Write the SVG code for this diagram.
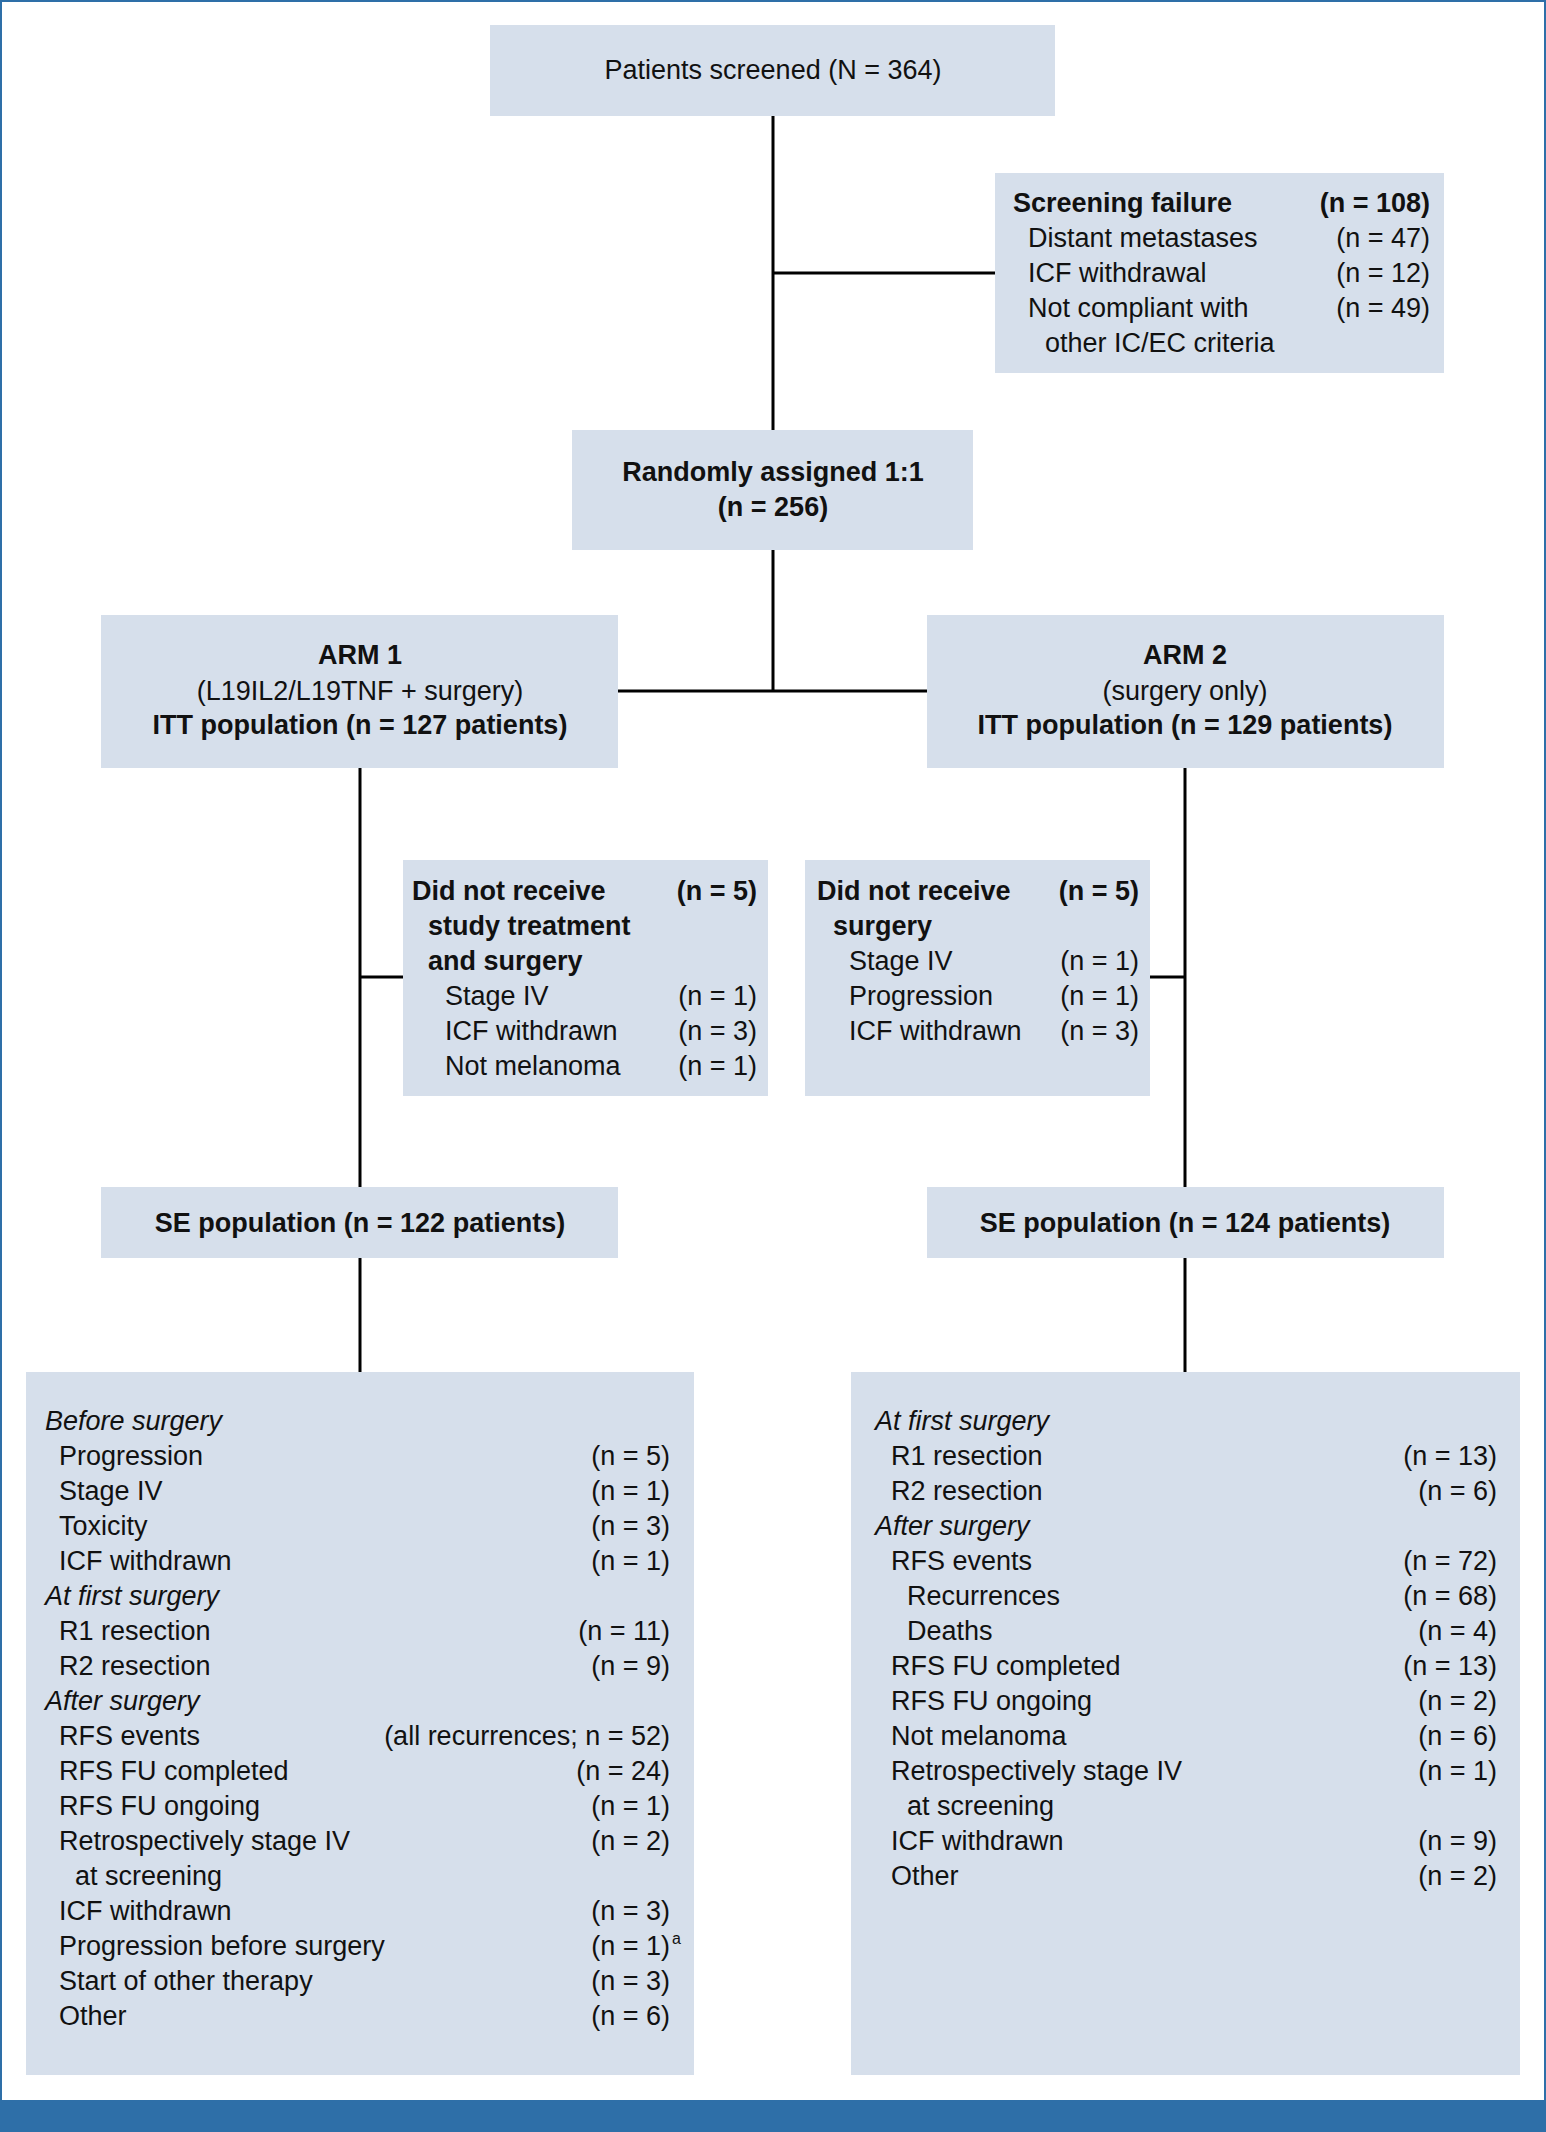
<svg xmlns="http://www.w3.org/2000/svg" width="1546" height="2132" viewBox="0 0 1546 2132">
<style>
.box{fill:#d6dfeb}
text{font-family:"Liberation Sans",Arial,sans-serif;font-size:27px;fill:#111}
.b{font-weight:bold}
.i{font-style:italic}
.c{text-anchor:middle}
.r{text-anchor:end}
.ln{stroke:#000;stroke-width:3;fill:none}
</style>
<rect x="1" y="1" width="1544" height="2110" fill="#fff" stroke="#2e6fa8" stroke-width="2"/>
<rect x="0" y="2100" width="1546" height="32" fill="#2e6fa8"/>
<g id="connectors" class="ln">
<path d="M773 116V430M773 273H995M773 550V691M618 691H927M360 768V1187M360 977H403M1185 768V1187M1150 977H1185M360 1258V1372M1185 1258V1372"/>
</g>
<g id="screened"><rect class="box" x="490" y="25" width="565" height="91"/>
<text class="c" x="773" y="79">Patients screened (N = 364)</text></g>
<g id="failure"><rect class="box" x="995" y="173" width="449" height="200"/>
<text class="b" x="1013" y="212">Screening failure</text><text class="b r" x="1430" y="212">(n = 108)</text>
<text x="1028" y="247">Distant metastases</text><text class="r" x="1430" y="247">(n = 47)</text>
<text x="1028" y="282">ICF withdrawal</text><text class="r" x="1430" y="282">(n = 12)</text>
<text x="1028" y="317">Not compliant with</text><text class="r" x="1430" y="317">(n = 49)</text>
<text x="1045" y="352">other IC/EC criteria</text></g>
<g id="random"><rect class="box" x="572" y="430" width="401" height="120"/>
<text class="b c" x="773" y="481">Randomly assigned 1:1</text><text class="b c" x="773" y="516">(n = 256)</text></g>
<g id="arm1"><rect class="box" x="101" y="615" width="517" height="153"/>
<text class="b c" x="360" y="664">ARM 1</text><text class="c" x="360" y="700">(L19IL2/L19TNF + surgery)</text><text class="b c" x="360" y="734">ITT population (n = 127 patients)</text></g>
<g id="arm2"><rect class="box" x="927" y="615" width="517" height="153"/>
<text class="b c" x="1185" y="664">ARM 2</text><text class="c" x="1185" y="700">(surgery only)</text><text class="b c" x="1185" y="734">ITT population (n = 129 patients)</text></g>
<g id="dnr1"><rect class="box" x="403" y="860" width="365" height="236"/>
<text class="b" x="412" y="900">Did not receive</text><text class="b r" x="757" y="900">(n = 5)</text>
<text class="b" x="428" y="935">study treatment</text>
<text class="b" x="428" y="970">and surgery</text>
<text x="445" y="1005">Stage IV</text><text class="r" x="757" y="1005">(n = 1)</text>
<text x="445" y="1040">ICF withdrawn</text><text class="r" x="757" y="1040">(n = 3)</text>
<text x="445" y="1075">Not melanoma</text><text class="r" x="757" y="1075">(n = 1)</text></g>
<g id="dnr2"><rect class="box" x="805" y="860" width="345" height="236"/>
<text class="b" x="817" y="900">Did not receive</text><text class="b r" x="1139" y="900">(n = 5)</text>
<text class="b" x="833" y="935">surgery</text>
<text x="849" y="970">Stage IV</text><text class="r" x="1139" y="970">(n = 1)</text>
<text x="849" y="1005">Progression</text><text class="r" x="1139" y="1005">(n = 1)</text>
<text x="849" y="1040">ICF withdrawn</text><text class="r" x="1139" y="1040">(n = 3)</text></g>
<g id="se1"><rect class="box" x="101" y="1187" width="517" height="71"/>
<text class="b c" x="360" y="1232">SE population (n = 122 patients)</text></g>
<g id="se2"><rect class="box" x="927" y="1187" width="517" height="71"/>
<text class="b c" x="1185" y="1232">SE population (n = 124 patients)</text></g>
<g id="out1"><rect class="box" x="26" y="1372" width="668" height="703"/>
<text class="i" x="45" y="1430">Before surgery</text>
<text x="59" y="1465">Progression</text><text class="r" x="670" y="1465">(n = 5)</text>
<text x="59" y="1500">Stage IV</text><text class="r" x="670" y="1500">(n = 1)</text>
<text x="59" y="1535">Toxicity</text><text class="r" x="670" y="1535">(n = 3)</text>
<text x="59" y="1570">ICF withdrawn</text><text class="r" x="670" y="1570">(n = 1)</text>
<text class="i" x="45" y="1605">At first surgery</text>
<text x="59" y="1640">R1 resection</text><text class="r" x="670" y="1640">(n = 11)</text>
<text x="59" y="1675">R2 resection</text><text class="r" x="670" y="1675">(n = 9)</text>
<text class="i" x="45" y="1710">After surgery</text>
<text x="59" y="1745">RFS events</text><text class="r" x="670" y="1745">(all recurrences; n = 52)</text>
<text x="59" y="1780">RFS FU completed</text><text class="r" x="670" y="1780">(n = 24)</text>
<text x="59" y="1815">RFS FU ongoing</text><text class="r" x="670" y="1815">(n = 1)</text>
<text x="59" y="1850">Retrospectively stage IV</text><text class="r" x="670" y="1850">(n = 2)</text>
<text x="75" y="1885">at screening</text>
<text x="59" y="1920">ICF withdrawn</text><text class="r" x="670" y="1920">(n = 3)</text>
<text x="59" y="1955">Progression before surgery</text><text class="r" x="670" y="1955">(n = 1)</text><text x="672" y="1944" style="font-size:16px">a</text>
<text x="59" y="1990">Start of other therapy</text><text class="r" x="670" y="1990">(n = 3)</text>
<text x="59" y="2025">Other</text><text class="r" x="670" y="2025">(n = 6)</text></g>
<g id="out2"><rect class="box" x="851" y="1372" width="669" height="703"/>
<text class="i" x="875" y="1430">At first surgery</text>
<text x="891" y="1465">R1 resection</text><text class="r" x="1497" y="1465">(n = 13)</text>
<text x="891" y="1500">R2 resection</text><text class="r" x="1497" y="1500">(n = 6)</text>
<text class="i" x="875" y="1535">After surgery</text>
<text x="891" y="1570">RFS events</text><text class="r" x="1497" y="1570">(n = 72)</text>
<text x="907" y="1605">Recurrences</text><text class="r" x="1497" y="1605">(n = 68)</text>
<text x="907" y="1640">Deaths</text><text class="r" x="1497" y="1640">(n = 4)</text>
<text x="891" y="1675">RFS FU completed</text><text class="r" x="1497" y="1675">(n = 13)</text>
<text x="891" y="1710">RFS FU ongoing</text><text class="r" x="1497" y="1710">(n = 2)</text>
<text x="891" y="1745">Not melanoma</text><text class="r" x="1497" y="1745">(n = 6)</text>
<text x="891" y="1780">Retrospectively stage IV</text><text class="r" x="1497" y="1780">(n = 1)</text>
<text x="907" y="1815">at screening</text>
<text x="891" y="1850">ICF withdrawn</text><text class="r" x="1497" y="1850">(n = 9)</text>
<text x="891" y="1885">Other</text><text class="r" x="1497" y="1885">(n = 2)</text></g>
</svg>
